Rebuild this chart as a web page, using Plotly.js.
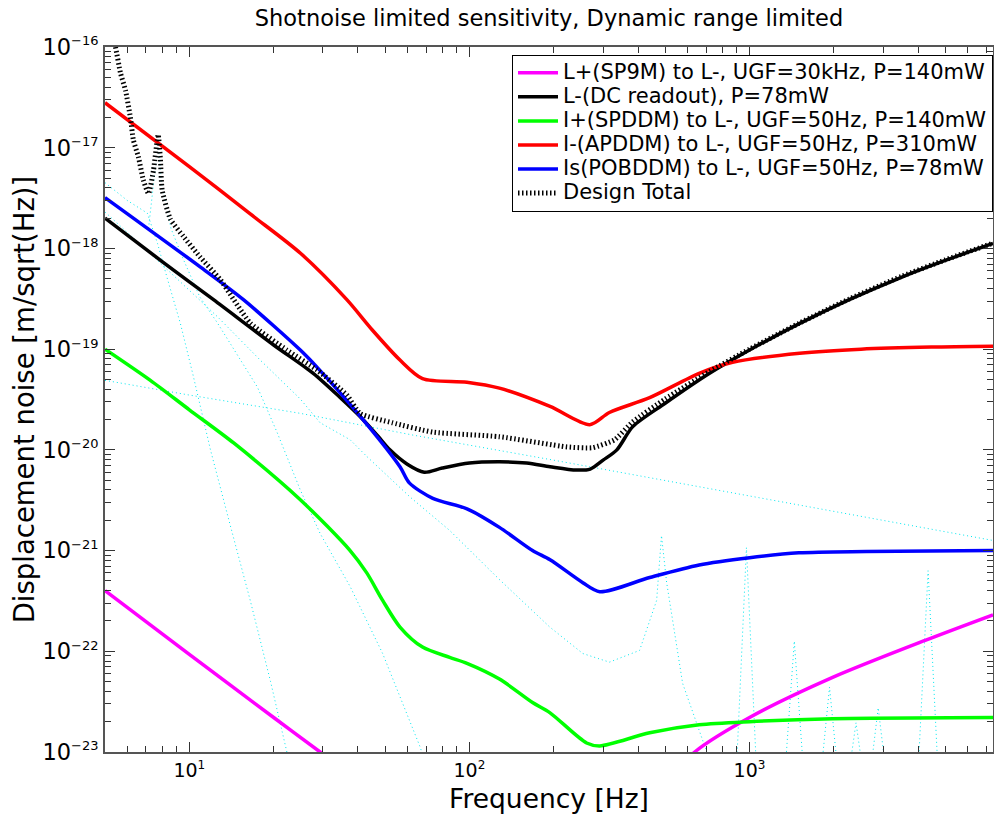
<!DOCTYPE html>
<html><head><meta charset="utf-8">
<script src="https://cdn.plot.ly/plotly-3.0.1.min.js"></script>
<style>
body{margin:0;background:#fff}
#chart{width:994px;height:829px}
.legendtext{font-size:21px !important}
</style>
</head><body><div id="chart"></div>
<script>
// ---------- data ----------
const freqMagenta  = [5, 10, 20, 29.3, 40, 100, 300, 500, 637, 1000, 1980, 4260, 7400];
const noiseMagenta = [4.0e-22, 9.3e-23, 2.2e-23, 1.0e-23, 5.2e-24, 1.0e-24, 1.5e-24, 5.0e-24, 1.0e-23, 2.2e-23, 5.5e-23, 1.29e-22, 2.3e-22];

const freqBlack  = [5, 8, 12.2, 20, 27.7, 35, 40.7, 47, 52, 60, 69, 80, 100, 128, 160, 194, 241, 270, 300, 336, 383, 500, 720, 1000, 1500, 2270, 3500, 5000, 7400];
const noiseBlack = [2.0e-18, 7.4e-19, 3.1e-19, 1.1e-19, 5.75e-20, 3.2e-20, 2.14e-20, 1.38e-20, 1.0e-20, 7.2e-21, 6.0e-21, 6.6e-21, 7.4e-21, 7.6e-21, 7.4e-21, 6.8e-21, 6.3e-21, 6.45e-21, 7.9e-21, 1.0e-20, 1.7e-20, 2.9e-20, 5.75e-20, 9.8e-20, 1.78e-19, 3.1e-19, 5.2e-19, 7.6e-19, 1.12e-18];

const freqGreen  = [5, 7.26, 10, 14.4, 24.9, 37.5, 43, 49, 56.5, 68, 85, 98, 128, 168, 194, 262, 292, 440, 661, 1000, 1980, 7400];
const noiseGreen = [1.0e-19, 4.9e-20, 2.5e-20, 1.17e-20, 3.2e-21, 1.0e-21, 6.0e-22, 3.2e-22, 1.74e-22, 1.1e-22, 8.7e-23, 7.6e-23, 5.3e-23, 3.1e-23, 2.45e-23, 1.23e-23, 1.15e-23, 1.55e-23, 1.86e-23, 2.0e-23, 2.14e-23, 2.2e-23];

const freqRed  = [5, 10, 16.5, 25, 36.5, 45, 56.5, 68, 98, 128, 194, 269, 316, 440, 661, 870, 1510, 2500, 4460, 7400];
const noiseRed = [2.8e-17, 6.5e-18, 2.2e-18, 8.9e-19, 3.1e-19, 1.55e-19, 7.8e-20, 5.1e-20, 4.7e-20, 4.1e-20, 2.7e-20, 1.78e-20, 2.35e-20, 3.3e-20, 5.75e-20, 7.4e-20, 9.1e-20, 1.0e-19, 1.05e-19, 1.07e-19];

const freqBlue  = [5, 10.9, 15.6, 24.9, 28.6, 41.7, 56.5, 61, 74, 98, 128, 168, 194, 254, 292, 440, 661, 1000, 1500, 2610, 7400];
const noiseBlue = [3.2e-18, 6.6e-19, 3.1e-19, 9.8e-20, 6.6e-20, 2.0e-20, 6.8e-21, 4.7e-21, 3.3e-21, 2.6e-21, 1.7e-21, 1.0e-21, 8.1e-22, 4.8e-22, 3.9e-22, 5.4e-22, 7.2e-22, 8.5e-22, 9.5e-22, 9.8e-22, 1.0e-21];

const freqTotal  = [5.2, 5.45, 5.68, 5.92, 6.16, 6.31, 6.58, 6.85, 7.15, 7.45, 7.74, 7.88, 8.0, 8.56, 9.52, 10.9, 12.9, 16.5, 22.3, 28.6, 36.5, 40.7, 53, 74, 128, 223, 275, 330, 383, 500, 720, 1000, 1500, 2270, 3500, 5000, 7400];
const noiseTotal = [1.7e-16, 1.0e-16, 5.5e-17, 3.7e-17, 2.0e-17, 1.2e-17, 8.1e-18, 4.8e-18, 3.5e-18, 6.0e-18, 1.35e-17, 7.9e-18, 3.8e-18, 1.95e-18, 1.32e-18, 8.3e-19, 4.9e-19, 1.82e-19, 9.8e-20, 6.2e-20, 3.5e-20, 2.3e-20, 1.86e-20, 1.5e-20, 1.35e-20, 1.07e-20, 1.05e-20, 1.26e-20, 1.9e-20, 3.2e-20, 6.0e-20, 1.0e-19, 1.8e-19, 3.15e-19, 5.3e-19, 7.7e-19, 1.13e-18];

// design noise components (thin cyan dotted, not in legend)
const freqCompA  = [5.0, 6.0, 7.08, 7.7, 8.35, 9.3, 10.3, 11.9, 14, 16.5, 19.5, 22.3, 25];
const noiseCompA = [4.5e-18, 3.0e-18, 2.24e-18, 1.12e-18, 5.0e-19, 1.78e-19, 5.6e-20, 1.0e-20, 1.78e-21, 3.2e-22, 5.0e-23, 1.0e-23, 3.2e-24];

const freqCompB  = [7.15, 7.5, 7.74, 7.95, 8.6, 9.5, 10.9, 12.6, 15.2, 17.5, 20.6, 24.9, 29.3, 37.5, 49, 66.7, 75];
const noiseCompB = [1.58e-18, 5.0e-18, 1.12e-17, 4.5e-18, 1.58e-18, 7.9e-19, 3.3e-19, 1.82e-19, 7.8e-20, 4.2e-20, 1.48e-20, 4.0e-21, 1.48e-21, 4.4e-22, 9.5e-23, 1.12e-23, 4.0e-24];

const freqCompC  = [5, 10, 25, 63, 200, 630, 1500, 7400];
const noiseCompC = [4.9e-20, 3.5e-20, 2.3e-20, 1.4e-20, 7.9e-21, 4.4e-21, 2.8e-21, 1.26e-21];

const freqCompD  = [5.0, 6.68, 12.6, 17.9, 24.9, 29.3, 37.5, 43.2, 61.4, 85.1, 128.5, 193.6, 254, 316, 405, 466, 485, 506, 577, 679, 724, 800];
const noiseCompD = [2.3e-18, 1.1e-18, 2.1e-19, 7.8e-20, 3.2e-20, 1.86e-20, 1.26e-20, 8.5e-21, 3.4e-21, 1.58e-21, 5.1e-22, 1.74e-22, 9.5e-23, 7.8e-23, 1.02e-22, 3.2e-22, 1.41e-21, 4.8e-22, 4.8e-23, 1.32e-23, 8.0e-24, 3.0e-24];
const violinFreqs = [975, 1445, 1930, 2400, 2880, 4340];
const violinTops  = [1.07e-21, 1.26e-22, 4.4e-23, 1.95e-23, 2.75e-23, 6.3e-22];
const violinFloor = 3.0e-24;

const seriesNames = [
  'L+(SP9M) to L-, UGF=30kHz, P=140mW',
  'L-(DC readout), P=78mW',
  'I+(SPDDM) to L-, UGF=50Hz, P=140mW',
  'I-(APDDM) to L-, UGF=50Hz, P=310mW',
  'Is(POBDDM) to L-, UGF=50Hz, P=78mW',
  'Design Total'
];
const xTickVals = [10, 100, 1000];
const xTickExp  = ['1', '2', '3'];
const yTickVals = [1e-23, 1e-22, 1e-21, 1e-20, 1e-19, 1e-18, 1e-17, 1e-16];
const yTickExp  = ['−23', '−22', '−21', '−20', '−19', '−18', '−17', '−16'];

// ---------- build ----------
const sup = (e, px) => '10<sup><span style="font-size:' + px + 'px">' + e + '</span></sup>';
const xTickText = xTickExp.map(e => sup(e, 12));
const yTickText = yTickExp.map(e => sup(e, 13));

// suspension component tail with violin harmonics spikes
const dX = freqCompD.slice(), dY = noiseCompD.slice();
violinFreqs.forEach((f, i) => {
  dX.push(f / 1.1, f, f * 1.1);
  dY.push(violinFloor, violinTops[i], violinFloor);
});
dX.push(7400); dY.push(violinFloor);

function minorVals(lo, hi) {
  const v = [];
  for (let d = lo; d <= hi; d++) for (let k = 2; k <= 9; k++) v.push(k * Math.pow(10, d));
  return v;
}

const cyan = {color: '#00e8f0', width: 1, dash: '1px,3px'};
const comp = (x, y) => ({x, y, type: 'scatter', mode: 'lines', line: cyan, showlegend: false, hoverinfo: 'skip'});
const main = (x, y, name, color) => ({x, y, name, type: 'scatter', mode: 'lines',
  line: {color, width: 3.5, shape: 'spline', smoothing: 0.8}});

const traces = [
  comp(freqCompA, noiseCompA),
  comp(freqCompB, noiseCompB),
  comp(freqCompC, noiseCompC),
  comp(dX, dY),
  main(freqMagenta, noiseMagenta, seriesNames[0], '#ff00ff'),
  main(freqBlack, noiseBlack, seriesNames[1], '#000000'),
  main(freqGreen, noiseGreen, seriesNames[2], '#00ff00'),
  main(freqRed, noiseRed, seriesNames[3], '#ff0000'),
  main(freqBlue, noiseBlue, seriesNames[4], '#0000ff'),
  {x: freqTotal, y: noiseTotal, name: seriesNames[5], type: 'scatter', mode: 'lines',
   line: {color: '#000000', width: 5, dash: '1.5px,2.5px', shape: 'spline', smoothing: 0.5}}
];

const font = 'DejaVu Sans, sans-serif';
const layout = {
  width: 994, height: 829,
  margin: {l: 105, r: 1, t: 47, b: 77},
  paper_bgcolor: '#ffffff', plot_bgcolor: '#ffffff',
  font: {family: font, color: '#000'},
  title: {text: 'Shotnoise limited sensitivity, Dynamic range limited', font: {size: 22.5, family: font}, x: 0.5, xref: 'paper', y: 0.978, yanchor: 'middle'},
  xaxis: {
    type: 'log', range: [Math.log10(5), Math.log10(7400)],
    tickmode: 'array', tickvals: xTickVals, ticktext: xTickText,
    ticks: 'inside', ticklen: 10, tickcolor: '#333', tickwidth: 1,
    minor: {tickmode: 'array', tickvals: minorVals(0, 3), ticks: 'inside', ticklen: 6, tickcolor: '#333', tickwidth: 1, showgrid: false},
    showgrid: false, zeroline: false, showline: true, linecolor: '#555', linewidth: 2, mirror: 'ticks',
    tickfont: {size: 19, family: font},
    title: {text: 'Frequency [Hz]', font: {size: 26.5, family: font}, standoff: 10}
  },
  yaxis: {
    type: 'log', range: [-23, -16],
    tickmode: 'array', tickvals: yTickVals, ticktext: yTickText,
    ticks: 'inside', ticklen: 10, tickcolor: '#333', tickwidth: 1,
    minor: {tickmode: 'array', tickvals: minorVals(-23, -17), ticks: 'inside', ticklen: 6, tickcolor: '#333', tickwidth: 1, showgrid: false},
    showgrid: false, zeroline: false, showline: true, linecolor: '#555', linewidth: 2, mirror: 'ticks',
    tickfont: {size: 22.5, family: font},
    title: {text: 'Displacement noise [m/sqrt(Hz)]', font: {size: 27.5, family: font}, standoff: 0}
  },
  legend: {
    x: 1, xanchor: 'right', y: 0.989, yanchor: 'top',
    bgcolor: '#ffffff', bordercolor: '#000', borderwidth: 1,
    font: {size: 16.2, family: font}, tracegroupgap: 0, itemwidth: 40
  },
  showlegend: true
};

Plotly.newPlot('chart', traces, layout, {displayModeBar: false, staticPlot: true});
</script>
</body></html>
